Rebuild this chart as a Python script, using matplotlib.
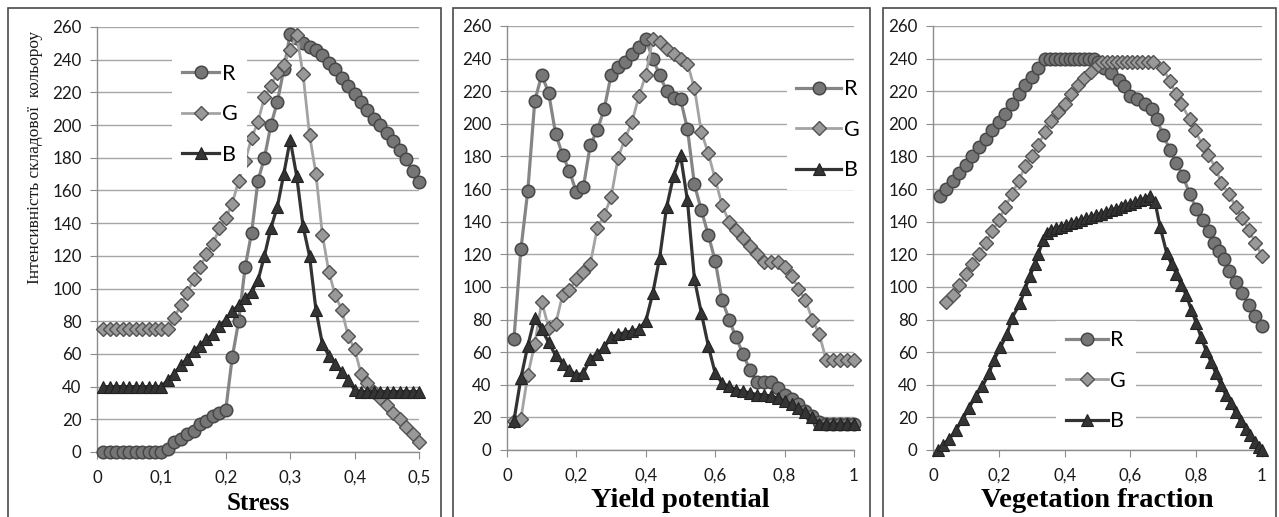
import matplotlib
matplotlib.use("Agg")
import matplotlib.pyplot as plt
from matplotlib.patches import Rectangle
from matplotlib.ticker import FuncFormatter, MultipleLocator

# ---- data: Stress ----
stress_x = [0.01, 0.02, 0.03, 0.04, 0.05, 0.06, 0.07, 0.08, 0.09, 0.10,
            0.11, 0.12, 0.13, 0.14, 0.15, 0.16, 0.17, 0.18, 0.19, 0.20,
            0.21, 0.22, 0.23, 0.24, 0.25, 0.26, 0.27, 0.28, 0.29, 0.30,
            0.31, 0.32, 0.33, 0.34, 0.35, 0.36, 0.37, 0.38, 0.39, 0.40,
            0.41, 0.42, 0.43, 0.44, 0.45, 0.46, 0.47, 0.48, 0.49, 0.50]
stress_r = [0, 0, 0, 0, 0, 0, 0, 0, 0, 0,
            2, 6, 8, 11, 13, 17, 19, 22, 24, 26,
            58, 80, 113, 134, 166, 180, 200, 214, 234, 256,
            253, 250, 248, 246, 243, 238, 234, 229, 224, 219,
            214, 209, 204, 200, 195, 190, 185, 179, 172, 165]
stress_g = [75, 75, 75, 75, 75, 75, 75, 75, 75, 75,
            75, 82, 90, 97, 106, 113, 121, 127, 137, 143,
            152, 166, 178, 192, 202, 217, 224, 232, 237, 246,
            255, 231, 194, 170, 133, 110, 96, 87, 71, 63,
            48, 42, 37, 33, 29, 24, 20, 15, 11, 6]
stress_b = [40, 40, 40, 40, 40, 40, 40, 40, 40, 40,
            44, 48, 53, 57, 62, 65, 69, 72, 77, 81,
            86, 90, 94, 98, 105, 120, 137, 150, 170, 191,
            169, 138, 120, 87, 66, 59, 54, 49, 44, 38,
            37, 37, 37, 37, 37, 37, 37, 37, 37, 37]

# ---- data: Yield potential ----
yield_x = [0.02, 0.04, 0.06, 0.08, 0.10, 0.12, 0.14, 0.16, 0.18, 0.20,
           0.22, 0.24, 0.26, 0.28, 0.30, 0.32, 0.34, 0.36, 0.38, 0.40,
           0.42, 0.44, 0.46, 0.48, 0.50, 0.52, 0.54, 0.56, 0.58, 0.60,
           0.62, 0.64, 0.66, 0.68, 0.70, 0.72, 0.74, 0.76, 0.78, 0.80,
           0.82, 0.84, 0.86, 0.88, 0.90, 0.92, 0.94, 0.96, 0.98, 1.00]
yield_r = [68, 123, 159, 214, 230, 219, 194, 181, 171, 158,
           161, 187, 196, 209, 230, 235, 238, 243, 247, 252,
           240, 230, 220, 216, 215, 197, 163, 147, 132, 116,
           92, 80, 69, 59, 49, 42, 42, 42, 38, 34,
           31, 28, 24, 21, 17, 16, 16, 16, 16, 16]
yield_g = [18, 19, 46, 65, 91, 75, 77, 95, 98, 105,
           109, 114, 136, 144, 155, 179, 191, 201, 217, 230,
           252, 250, 246, 243, 240, 237, 222, 195, 182, 166,
           150, 140, 135, 130, 125, 120, 115, 115, 115, 112,
           107, 99, 92, 80, 71, 55, 55, 55, 55, 55]
yield_b = [18, 44, 64, 81, 74, 66, 58, 53, 49, 46,
           47, 56, 59, 63, 69, 71, 72, 73, 74, 79,
           96, 118, 149, 168, 181, 153, 105, 84, 64, 47,
           41, 39, 37, 36, 35, 34, 34, 33, 32, 30,
           28, 26, 23, 20, 16, 16, 16, 16, 16, 16]

# ---- data: Vegetation fraction ----
veg_r_x = [0.02, 0.04, 0.06, 0.08, 0.10, 0.12, 0.14, 0.16, 0.18, 0.20,
           0.22, 0.24, 0.26, 0.28, 0.30, 0.32, 0.34,
           0.355, 0.37, 0.385, 0.40, 0.415, 0.43, 0.445, 0.46, 0.475, 0.49,
           0.50, 0.52, 0.54, 0.565, 0.58, 0.60, 0.62, 0.645, 0.665, 0.68,
           0.70, 0.72, 0.74, 0.76, 0.78, 0.80, 0.82, 0.84, 0.855, 0.87,
           0.885, 0.90, 0.92, 0.94, 0.96, 0.98, 1.00]
veg_r = [156, 160, 165, 170, 175, 180, 186, 191, 196, 201,
         206, 212, 218, 224, 229, 234, 240,
         240, 240, 240, 240, 240, 240, 240, 240, 240, 240,
         238, 234, 231, 227, 223, 217, 215, 212, 209, 203,
         193, 184, 176, 168, 157, 148, 141, 134, 127, 122,
         117, 110, 103, 96, 89, 82, 76]
veg_g_x = [0.04, 0.06, 0.08, 0.10, 0.12, 0.14, 0.16, 0.18, 0.20, 0.22,
           0.24, 0.26, 0.28, 0.30, 0.32, 0.34, 0.36, 0.38, 0.40, 0.42,
           0.44, 0.46, 0.48, 0.50,
           0.515, 0.53, 0.545, 0.56, 0.575, 0.59, 0.605, 0.62, 0.635, 0.655, 0.67,
           0.70, 0.72, 0.74, 0.755, 0.78, 0.795, 0.82, 0.835, 0.86, 0.875,
           0.90, 0.92, 0.94, 0.96, 0.98, 1.00]
veg_g = [91, 95, 101, 108, 114, 120, 127, 134, 141, 149,
         157, 165, 174, 180, 187, 195, 202, 207, 212, 218,
         224, 228, 232, 236,
         238, 238, 238, 238, 238, 238, 238, 238, 238, 238, 238,
         234, 226, 218, 212, 203, 196, 187, 181, 173, 164,
         157, 149, 142, 135, 127, 119]
veg_b_x = [0.015, 0.03, 0.05, 0.07, 0.09, 0.11, 0.13, 0.15, 0.17, 0.185,
           0.205, 0.225, 0.24, 0.265, 0.28, 0.295, 0.31, 0.32, 0.335,
           0.345, 0.36, 0.375, 0.39, 0.405, 0.42, 0.435, 0.45, 0.465, 0.48,
           0.495, 0.51, 0.525, 0.54, 0.555, 0.57, 0.585, 0.60, 0.615, 0.63,
           0.645, 0.66,
           0.675, 0.69, 0.71, 0.725, 0.74, 0.755, 0.77, 0.785, 0.80, 0.815,
           0.83, 0.845, 0.86, 0.875, 0.89, 0.905, 0.92, 0.935, 0.95, 0.965,
           0.98, 0.99, 1.00]
veg_b = [0, 3, 7, 12, 19, 26, 33, 39, 47, 55,
         63, 71, 81, 90, 99, 107, 114, 120, 129,
         133, 135, 136, 137, 138, 139, 140, 141, 142, 143,
         144, 145, 146, 147, 148, 149, 150, 151, 152, 153,
         154, 156,
         152, 137, 121, 114, 108, 101, 95, 86, 78, 69,
         61, 54, 47, 40, 34, 29, 23, 18, 13, 9,
         5, 2, 0]

y_ticks = list(range(0, 261, 20))
y_label = "Інтенсивність складової  кольороу"

# series styles (R, G, B)
R_STYLE = dict(color="#858585", lw=2.3, marker="o", ms=9, mfc="#767676", mec="#474747", mew=1.1)
G_STYLE = dict(color="#a3a3a3", lw=2.0, marker="D", ms=6.8, mfc="#999999", mec="#525252", mew=1.0)
B_STYLE = dict(color="#333333", lw=2.3, marker="^", ms=9, mfc="#343434", mec="#222222", mew=0.8)

W, H = 1279, 517
fig = plt.figure(figsize=(W / 100, H / 100), dpi=100)


def px_axes(x0, x1, ytop, ybot):
    return fig.add_axes([x0 / W, (H - ybot) / H, (x1 - x0) / W, (ybot - ytop) / H])


def comma(v, pos):
    return ("%g" % round(v, 2)).replace(".", ",")


def style_axes(ax, xmax, xstep):
    ax.set_xlim(0, xmax)
    ax.set_ylim(0, 260)
    ax.set_yticks(y_ticks)
    ax.xaxis.set_major_locator(MultipleLocator(xstep))
    ax.xaxis.set_major_formatter(FuncFormatter(comma))
    for s in ["top", "right"]:
        ax.spines[s].set_visible(False)
    for s in ["left", "bottom"]:
        ax.spines[s].set_color("#8c8c8c")
        ax.spines[s].set_linewidth(1.0)
    ax.grid(axis="y", color="#a6a6a6", lw=1.0)
    ax.set_axisbelow(True)
    ax.tick_params(axis="both", direction="out", length=5, color="#8c8c8c",
                   labelsize=12.2, labelcolor="#1a1a1a")
    ax.tick_params(axis="y", pad=6)
    ax.tick_params(axis="x", pad=8)
    for lab in ax.get_xticklabels() + ax.get_yticklabels():
        lab.set_fontfamily("Lato")


def draw(ax, x_r, r, x_g, g, x_b, b):
    ax.plot(x_r, r, label="R", clip_on=False, zorder=3, **R_STYLE)
    ax.plot(x_g, g, label="G", clip_on=False, zorder=3, **G_STYLE)
    ax.plot(x_b, b, label="B", clip_on=False, zorder=3, **B_STYLE)


def legend(ax, anchor, hl):
    leg = ax.legend(loc="center", bbox_to_anchor=anchor, frameon=True, fancybox=False,
                    facecolor="white", edgecolor="none", framealpha=1.0,
                    prop={"family": "Lato", "size": 15.5}, handlelength=hl,
                    handletextpad=0.12, labelspacing=0.95, borderpad=0.45,
                    borderaxespad=0)
    leg.set_zorder(5)


# panel 1
ax1 = px_axes(97, 419, 27, 452)
draw(ax1, stress_x, stress_r, stress_x, stress_g, stress_x, stress_b)
style_axes(ax1, 0.5, 0.1)
legend(ax1, (0.35, 0.795), 1.75)
ax1.set_xlabel("Stress", fontfamily="Liberation Serif", fontweight="bold", fontsize=18, labelpad=4)

# panel 2
ax2 = px_axes(507, 854, 26, 450)
draw(ax2, yield_x, yield_r, yield_x, yield_g, yield_x, yield_b)
style_axes(ax2, 1.0, 0.2)
legend(ax2, (0.925, 0.755), 2.1)
ax2.set_xlabel("Yield potential", fontfamily="Liberation Serif", fontweight="bold", fontsize=20.5, labelpad=3)

# panel 3
ax3 = px_axes(933, 1262, 26, 450)
draw(ax3, veg_r_x, veg_r, veg_g_x, veg_g, veg_b_x, veg_b)
style_axes(ax3, 1.0, 0.2)
legend(ax3, (0.495, 0.163), 1.95)
ax3.set_xlabel("Vegetation fraction", fontfamily="Liberation Serif", fontweight="bold", fontsize=20.5, labelpad=3)

# y label of the first panel (placed higher, as in the original)
fig.text(35 / W, 1 - 157 / H, y_label, rotation=90, ha="center", va="center",
         fontfamily="Liberation Serif", fontsize=12.5, color="#1a1a1a")

# panel frames
for left, right in [(8, 441), (453, 870), (883, 1276)]:
    fig.add_artist(Rectangle((left / W, -0.05), (right - left) / W, (H - 8) / H + 0.05,
                             transform=fig.transFigure, fill=False,
                             edgecolor="#4a4a4a", lw=1.2))

fig.savefig("out.png", dpi=100)
